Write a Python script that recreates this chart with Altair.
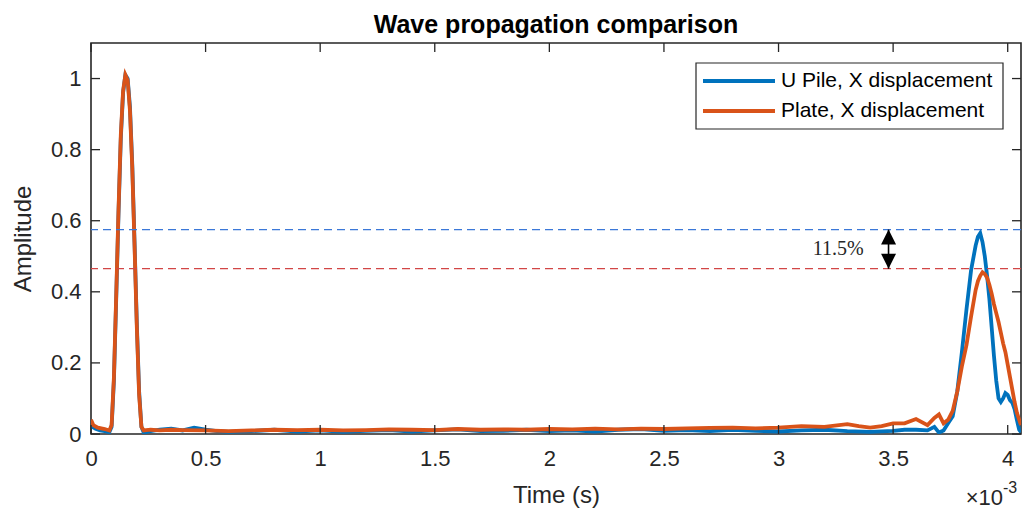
import altair as alt
import pandas as pd

TITLE = "Wave propagation comparison"
X_TITLE = "Time (s)"
Y_TITLE = "Amplitude"
SERIES = ["U Pile, X displacement", "Plate, X displacement"]
SERIES_COLORS = ["#0072BD", "#D95319"]

# time in units of 1e-3 s
t_upile = [0.000, 0.020, 0.040, 0.060, 0.080, 0.090, 0.100, 0.110, 0.120, 0.130,
           0.140, 0.150, 0.160, 0.170, 0.180, 0.190, 0.200, 0.210, 0.220, 0.230,
           0.260, 0.300, 0.350, 0.400, 0.450, 0.500, 0.550, 0.600, 0.700, 0.800,
           0.900, 1.000, 1.100, 1.200, 1.300, 1.400, 1.500, 1.600, 1.700, 1.800,
           1.900, 2.000, 2.100, 2.200, 2.300, 2.400, 2.500, 2.600, 2.700, 2.800,
           2.900, 3.000, 3.100, 3.200, 3.300, 3.400, 3.500, 3.550, 3.600, 3.650,
           3.680, 3.700, 3.720, 3.740, 3.760, 3.780, 3.800, 3.820, 3.840, 3.860,
           3.870, 3.880, 3.890, 3.900, 3.910, 3.920, 3.930, 3.940, 3.950, 3.960,
           3.970, 3.980, 3.990, 4.000, 4.010, 4.020, 4.030, 4.040, 4.050, 4.058]
a_upile = [0.022, 0.015, 0.010, 0.008, 0.005, 0.020, 0.150, 0.380, 0.620, 0.830,
           0.960, 1.010, 1.000, 0.920, 0.760, 0.540, 0.310, 0.120, 0.020, 0.004,
           0.008, 0.012, 0.015, 0.010, 0.018, 0.012, 0.008, 0.006, 0.008, 0.012,
           0.007, 0.010, 0.006, 0.009, 0.011, 0.007, 0.010, 0.013, 0.008, 0.009,
           0.012, 0.008, 0.010, 0.007, 0.012, 0.014, 0.009, 0.011, 0.008, 0.012,
           0.009, 0.007, 0.010, 0.012, 0.008, 0.006, 0.009, 0.012, 0.012, 0.010,
           0.020, 0.004, 0.010, 0.030, 0.050, 0.120, 0.230, 0.350, 0.460, 0.530,
           0.555, 0.565, 0.540, 0.500, 0.445, 0.380, 0.300, 0.220, 0.150, 0.100,
           0.090, 0.100, 0.115, 0.110, 0.095, 0.088, 0.070, 0.040, 0.012, 0.005]

t_plate = [0.000, 0.010, 0.030, 0.060, 0.080, 0.090, 0.100, 0.110, 0.120, 0.130,
           0.140, 0.150, 0.160, 0.170, 0.180, 0.190, 0.200, 0.210, 0.220, 0.230,
           0.260, 0.300, 0.350, 0.400, 0.500, 0.600, 0.700, 0.800, 0.900, 1.000,
           1.100, 1.200, 1.300, 1.400, 1.500, 1.600, 1.700, 1.800, 1.900, 2.000,
           2.100, 2.200, 2.300, 2.400, 2.500, 2.600, 2.700, 2.800, 2.900, 3.000,
           3.100, 3.200, 3.300, 3.350, 3.400, 3.450, 3.500, 3.550, 3.600, 3.650,
           3.680, 3.700, 3.720, 3.740, 3.760, 3.780, 3.800, 3.820, 3.840, 3.860,
           3.870, 3.880, 3.890, 3.900, 3.910, 3.920, 3.930, 3.940, 3.950, 3.960,
           3.970, 3.980, 3.990, 4.000, 4.010, 4.020, 4.030, 4.040, 4.050, 4.058]
a_plate = [0.040, 0.025, 0.018, 0.014, 0.010, 0.025, 0.160, 0.390, 0.630, 0.840,
           0.965, 1.010, 0.995, 0.910, 0.750, 0.530, 0.300, 0.110, 0.020, 0.010,
           0.012, 0.010, 0.012, 0.011, 0.010, 0.008, 0.010, 0.012, 0.011, 0.012,
           0.010, 0.011, 0.013, 0.012, 0.011, 0.014, 0.012, 0.013, 0.012, 0.014,
           0.013, 0.015, 0.013, 0.015, 0.014, 0.016, 0.017, 0.018, 0.016, 0.018,
           0.022, 0.020, 0.028, 0.022, 0.018, 0.022, 0.030, 0.030, 0.042, 0.025,
           0.045, 0.055, 0.030, 0.040, 0.065, 0.120, 0.190, 0.250, 0.330, 0.405,
           0.430, 0.445, 0.455, 0.450, 0.440, 0.420, 0.395, 0.365, 0.340, 0.315,
           0.285, 0.255, 0.230, 0.195, 0.160, 0.125, 0.090, 0.060, 0.040, 0.025]

X_TICKS = [0, 0.5, 1, 1.5, 2, 2.5, 3, 3.5, 4]
Y_TICKS = [0, 0.2, 0.4, 0.6, 0.8, 1]
X_DOMAIN = [0, 4.058]
Y_DOMAIN = [0, 1.1]

REF_LEVELS = [0.575, 0.465]
REF_COLORS = ["#3B78D8", "#D24646"]
ARROW_T = 3.48
NOTE_TEXT = "11.5%"
NOTE_T = 3.26
NOTE_A = 0.52
EXP_BASE = "\u00d710"
EXP_POWER = "-3"

assert len(t_upile) == len(a_upile)
assert len(t_plate) == len(a_plate)

FONT = "Liberation Sans"
INK = "#262626"
W, H = 930, 391

xs = alt.Scale(domain=X_DOMAIN, nice=False, zero=False)
ys = alt.Scale(domain=Y_DOMAIN, nice=False, zero=False)

df_u = pd.DataFrame({"t": t_upile, "a": a_upile, "i": range(len(t_upile))})
df_p = pd.DataFrame({"t": t_plate, "a": a_plate, "i": range(len(t_plate))})

x_axis = alt.Axis(values=X_TICKS, labelExpr="'' + datum.value", title=X_TITLE,
                  ticks=False, domain=False, grid=False, labelPadding=14,
                  labelFontSize=22, titleFontSize=24, titleY=68,
                  titleBaseline="alphabetic", labelFlush=False)
y_axis = alt.Axis(values=Y_TICKS, labelExpr="'' + datum.value", title=Y_TITLE,
                  ticks=False, domain=False, grid=False, labelPadding=10,
                  labelFontSize=22, titleFontSize=24, titleX=-61,
                  titleBaseline="alphabetic", labelFlush=False)


def X(field):
    return alt.X(field, scale=xs, axis=x_axis, title=X_TITLE)


def Y(field):
    return alt.Y(field, scale=ys, axis=y_axis, title=Y_TITLE)


line_u = alt.Chart(df_u).mark_line(strokeWidth=3.8, color=SERIES_COLORS[0], clip=True).encode(
    x=X("t:Q"), y=Y("a:Q"), order="i:Q",
)
line_p = alt.Chart(df_p).mark_line(strokeWidth=3.8, color=SERIES_COLORS[1], clip=True).encode(
    x=X("t:Q"), y=Y("a:Q"), order="i:Q",
)

ref_df = pd.DataFrame({"level": REF_LEVELS, "c": REF_COLORS})
ref = alt.Chart(ref_df).mark_rule(strokeDash=[8, 5], strokeWidth=1.3).encode(
    y=Y("level:Q"),
    color=alt.Color("c:N", scale=None),
)

arrow_df = pd.DataFrame({"t": [ARROW_T], "hi": [REF_LEVELS[0]], "lo": [REF_LEVELS[1]]})
arrow_stem = alt.Chart(arrow_df).mark_rule(strokeWidth=1.6, color="black").encode(
    x=X("t:Q"), y=Y("hi:Q"), y2="lo:Q",
)
head_up = alt.Chart(arrow_df).mark_point(shape="M0,0L-0.5,1L0.5,1Z", filled=True, size=900,
                                         color="black", opacity=1).encode(
    x=X("t:Q"), y=Y("hi:Q"),
)
head_down = alt.Chart(arrow_df).mark_point(shape="M0,0L-0.5,-1L0.5,-1Z", filled=True, size=900,
                                           color="black", opacity=1).encode(
    x=X("t:Q"), y=Y("lo:Q"),
)
note_df = pd.DataFrame({"t": [NOTE_T], "a": [NOTE_A], "txt": [NOTE_TEXT]})
note = alt.Chart(note_df).mark_text(font="Liberation Serif", fontSize=20, color=INK,
                                    align="center", baseline="middle").encode(
    x=X("t:Q"), y=Y("a:Q"), text="txt:N",
)

# inward tick marks on all four sides
ytk = pd.DataFrame({"v": Y_TICKS})
xtk = pd.DataFrame({"v": X_TICKS})
TL = 9
tick_layers = [
    alt.Chart(ytk).mark_rule(color=INK, strokeWidth=1.3).encode(
        y=Y("v:Q"), x=alt.value(0), x2=alt.value(TL)),
    alt.Chart(ytk).mark_rule(color=INK, strokeWidth=1.3).encode(
        y=Y("v:Q"), x=alt.value(W), x2=alt.value(W - TL)),
    alt.Chart(xtk).mark_rule(color=INK, strokeWidth=1.3).encode(
        x=X("v:Q"), y=alt.value(H), y2=alt.value(H - TL)),
    alt.Chart(xtk).mark_rule(color=INK, strokeWidth=1.3).encode(
        x=X("v:Q"), y=alt.value(0), y2=alt.value(TL)),
]

# legend box
one = pd.DataFrame({"k": [0]})
legend_layers = [
    alt.Chart(one).mark_rect(fill="white", stroke=INK, strokeWidth=1.2).encode(
        x=alt.value(605), x2=alt.value(912), y=alt.value(20), y2=alt.value(86)),
]
for k, (name, col) in enumerate(zip(SERIES, SERIES_COLORS)):
    yy = 38 + 30 * k
    legend_layers.append(
        alt.Chart(one).mark_rule(color=col, strokeWidth=4).encode(
            x=alt.value(612), x2=alt.value(684), y=alt.value(yy)))
    legend_layers.append(
        alt.Chart(pd.DataFrame({"name": [name]})).mark_text(
            font=FONT, fontSize=21, color="black", align="left", baseline="middle").encode(
            text="name:N", x=alt.value(690), y=alt.value(yy)))

text_layers = [
    alt.Chart(pd.DataFrame({"s": [TITLE]})).mark_text(
        font=FONT, fontSize=25, fontWeight="bold", color="black", align="center",
        baseline="alphabetic").encode(
        text="s:N", x=alt.value(W / 2), y=alt.value(-10)),
    alt.Chart(pd.DataFrame({"s": [EXP_BASE]})).mark_text(
        font=FONT, fontSize=22, color=INK, align="right", baseline="alphabetic").encode(
        text="s:N", x=alt.value(912), y=alt.value(462)),
    alt.Chart(pd.DataFrame({"s": [EXP_POWER]})).mark_text(
        font=FONT, fontSize=16, color=INK, align="left", baseline="alphabetic").encode(
        text="s:N", x=alt.value(912), y=alt.value(450)),
]

chart = alt.layer(
    line_u, line_p, ref, arrow_stem, head_up, head_down, note,
    *tick_layers, *legend_layers, *text_layers,
).properties(
    width=W, height=H,
    autosize=alt.AutoSizeParams(type="none"),
    padding={"left": 83, "top": 35, "right": 5, "bottom": 77},
).configure_view(
    stroke=INK, strokeWidth=1.6,
).configure_axis(
    labelFont=FONT, titleFont=FONT, labelColor=INK, titleColor=INK,
    titleFontWeight="normal",
)

chart.save("out.html", embed_options={"renderer": "svg", "actions": False})
